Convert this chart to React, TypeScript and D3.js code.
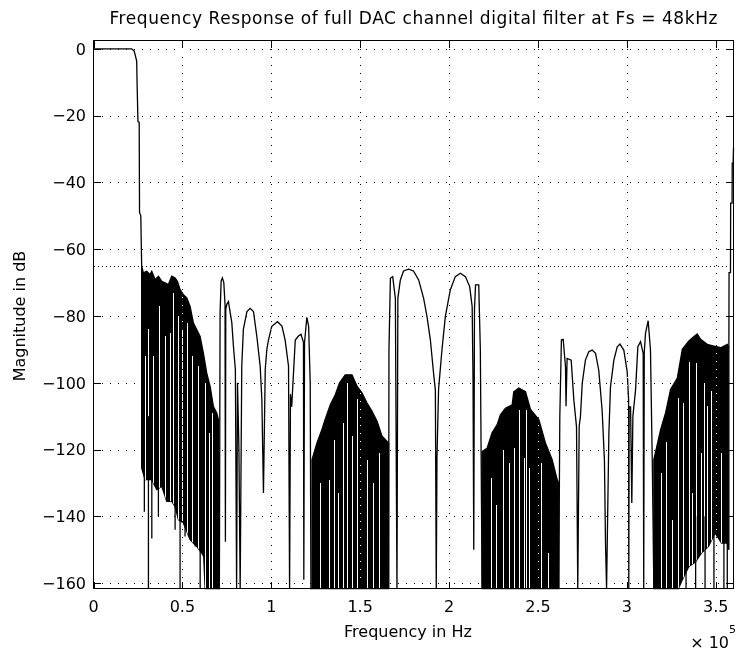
import React from 'react';
import * as d3 from 'd3';

type P = [number, number];

const TITLE = 'Frequency Response of full DAC channel digital filter at Fs = 48kHz';
const X_LABEL = 'Frequency in Hz';
const Y_LABEL = 'Magnitude in dB';
const X_TICKS = [0, 50000, 100000, 150000, 200000, 250000, 300000, 350000];
const X_TICK_LABELS = ['0', '0.5', '1', '1.5', '2', '2.5', '3', '3.5'];
const Y_TICKS = [0, -20, -40, -60, -80, -100, -120, -140, -160];
const MASK_DB = -65;
const X_DOMAIN: P = [0, 360000];
const Y_DOMAIN: P = [-161.6, 2.5];

// passband and transition band
const passband: P[] = [[0, 0], [21500, 0], [22900, -0.7], [24300, -3.7], [24500, -9.7], [25000, -21.7], [25700, -22], [25900, -49], [26600, -50], [27100, -65.2]];

// dense stopband regions (envelopes)
const region1Upper: P[] = [[27100, -65.1], [28050, -67.1], [29950, -66.6], [31800, -67.6], [32770, -66.6], [34630, -69.1], [36500, -68.1], [38400, -69.6], [40260, -70.1], [42120, -70.6], [44030, -68.1], [45890, -68.6], [47200, -69.6], [48700, -72.1], [50560, -73.6], [52480, -74.6], [54340, -77.1], [56200, -82.1], [58100, -84.1], [59970, -86.1], [61800, -91.1], [63700, -97.1], [65600, -101.1], [67450, -107.1], [69370, -109.1], [70300, -111.1]];
const region1Lower: P[] = [[27100, -125.5], [29000, -129], [32770, -129], [35600, -132], [38400, -131], [41200, -135.5], [44000, -135.5], [45900, -137], [47750, -141], [50560, -142], [54340, -147], [58100, -149], [60900, -151], [62000, -152], [62800, -161.6], [70300, -161.6]];
const region2Upper: P[] = [[122900, -123], [125700, -118], [128500, -114], [130300, -111], [133200, -106.6], [136000, -103.6], [138400, -100], [141600, -97.6], [145400, -97.6], [148200, -101], [151000, -103], [153800, -106], [156600, -108.5], [159500, -111.5], [162300, -116], [166000, -118]];
const region2Lower: P[] = [[122900, -161.6], [166000, -161.6]];
const region3Upper: P[] = [[218600, -120.6], [221400, -119.6], [224200, -115], [227000, -112.6], [228900, -109.6], [231700, -107.6], [235500, -106.6], [236400, -102.7], [239200, -101.6], [243000, -102.7], [245800, -108], [250500, -111], [254200, -118], [258000, -123], [260800, -129], [261700, -130]];
const region3Lower: P[] = [[218600, -161.6], [261700, -161.6]];
const region4Upper: P[] = [[315200, -123], [319000, -114], [321800, -109], [324600, -102], [328400, -98.6], [331200, -90], [334900, -87.5], [337600, -86.2], [339600, -85.4], [341500, -87], [345200, -88.5], [349000, -89], [352800, -89.5], [356500, -88.5], [357400, -89.5]];
const region4Lower: P[] = [[315200, -161.6], [329000, -161.6], [331200, -159], [334900, -155], [338700, -153.6], [341900, -151], [345900, -149], [349700, -145], [353300, -148], [356500, -148], [357400, -150]];

// white gaps inside dense regions: [freq, top dB]
const region1Gaps: P[] = [[29000, -92], [30900, -84], [33700, -92], [37100, -77], [40300, -86], [43100, -85], [44900, -73], [47800, -80], [49700, -84], [52500, -82], [55300, -92], [59000, -95], [62800, -100], [65200, -115], [66600, -109]];
const region2Gaps: P[] = [[127500, -130], [132200, -129], [135000, -117], [137800, -133], [140600, -112], [142600, -100], [145400, -116], [148200, -105], [153800, -123], [157200, -130], [160400, -121]];
const region3Gaps: P[] = [[223800, -128.5], [226500, -136.6], [230200, -120], [233600, -124], [236400, -119.6], [239200, -108], [242000, -122.5], [243400, -108], [245200, -125.5], [252000, -124], [255700, -151]];
const region4Gaps: P[] = [[319000, -127], [322200, -117.6], [325600, -141], [328900, -104.6], [331500, -106], [334900, -93.7], [336800, -133], [338700, -94], [341500, -121], [343300, -100], [345200, -107], [347100, -102.6], [352800, -121]];

// nulls reaching below the dense envelopes: [freq, top dB, bottom dB]
const spikes: [number, number, number][] = [[28600, -110, -138.6], [30900, -110, -161.6], [32800, -110, -146.6], [36500, -110, -140], [45900, -120, -144], [48700, -120, -161.6], [51500, -120, -146], [57200, -130, -149], [60000, -130, -161.6], [333300, -140, -161.6], [338700, -140, -161.6], [344000, -140, -161.6], [349000, -140, -161.6], [354600, -140, -161.6], [356500, -140, -161.6]];

// single-line lobes between dense regions
const lobes12: P[] = [[70300, -161.6], [70800, -161.6], [71200, -79], [71800, -69.5], [72500, -68.6], [73300, -70], [74000, -76.7], [74200, -147.6], [74400, -78], [75000, -76.5], [75900, -75.7], [77800, -82], [78700, -89], [79800, -96], [80500, -161.6], [81000, -100], [81800, -120], [82500, -161.6], [83400, -95], [84300, -84], [86300, -78.7], [88100, -77.7], [90000, -78.7], [91900, -86.2], [93750, -95], [94700, -105], [95600, -133], [96600, -96], [97500, -90], [98400, -87.2], [100300, -83.1], [103500, -81.7], [106000, -83], [107800, -87.2], [109700, -95], [110300, -161.6], [110800, -103.4], [111500, -107.2], [112200, -100], [113500, -87.2], [115300, -86], [116700, -85.5], [118100, -87.9], [118300, -159], [118700, -88], [120000, -80.4], [121000, -83], [121900, -100], [122300, -161.6], [122900, -161.6]];
const lobes23: P[] = [[166000, -161.6], [166200, -90.2], [167000, -68.7], [168300, -68.2], [169800, -74.7], [170700, -161.6], [171200, -74.7], [172600, -69.2], [174400, -66.5], [177300, -66], [180000, -66.5], [182900, -69.2], [185700, -74.7], [187600, -80.2], [189500, -87.2], [191300, -97.2], [192300, -102.2], [192800, -161.6], [193200, -122.5], [194100, -102], [196000, -90.2], [197900, -80.2], [200700, -72.2], [203500, -68.2], [206400, -67.2], [209200, -68.2], [211600, -71.2], [213000, -77.2], [213500, -100], [213900, -150], [214300, -78], [214900, -70.7], [216700, -70.7], [217600, -90.2], [218600, -161.6]];
const lobes34: P[] = [[261700, -161.6], [262300, -110.2], [263200, -87.2], [264200, -87], [265500, -95.2], [265800, -107], [266400, -92.7], [268700, -93.2], [270200, -105.2], [271700, -113.2], [272400, -161.6], [273200, -113], [273900, -110.2], [274900, -100.2], [276700, -93.2], [278600, -90.7], [280500, -90.2], [282400, -91.2], [284200, -96.2], [286100, -108.2], [287400, -123.2], [288000, -148], [288600, -161.6], [289900, -115.2], [290800, -101.2], [292700, -93.2], [294600, -89.2], [296100, -88.4], [298300, -90.2], [300200, -96.7], [301000, -105.2], [301100, -161.6], [301300, -107.2], [302100, -107.2], [302800, -136], [303400, -110], [304900, -102.2], [306200, -89.2], [307700, -87.7], [309200, -91.2], [309500, -161.6], [309800, -91], [310500, -85.2], [312000, -81.4], [313300, -90.2], [314300, -123.2], [315200, -161.6]];
const rightEdge: P[] = [[357400, -89.5], [357500, -67], [358300, -67], [358400, -46.2], [359200, -46.2], [359300, -34.2], [359800, -34.2], [360000, -29.7]];

const FONT = '"DejaVu Sans", "Liberation Sans", Arial, sans-serif';

export default function App() {
  const left = 93.5, right = 733.5, top = 40.5, bottom = 588.5;
  const x = d3.scaleLinear().domain(X_DOMAIN).range([left, right]);
  const y = d3.scaleLinear().domain(Y_DOMAIN).range([bottom, top]);
  const line = d3.line<P>().x(d => x(d[0])).y(d => y(d[1]));
  const poly = (u: P[], l: P[]) => line(u.concat(l.slice().reverse())) + 'Z';

  const regions = [
    { id: 'r1', u: region1Upper, l: region1Lower, gaps: region1Gaps },
    { id: 'r2', u: region2Upper, l: region2Lower, gaps: region2Gaps },
    { id: 'r3', u: region3Upper, l: region3Lower, gaps: region3Gaps },
    { id: 'r4', u: region4Upper, l: region4Lower, gaps: region4Gaps },
  ];
  const traces = [passband, lobes12, lobes23, lobes34, rightEdge];
  const TL = 7;

  return (
    <svg width={736} height={652} style={{ position: 'absolute', left: 0, top: 0, background: '#fff' }} fontFamily={FONT}>
      <defs>
        {regions.map(r => (
          <clipPath id={'clip-' + r.id} key={r.id}>
            <path d={poly(r.u, r.l)} />
          </clipPath>
        ))}
      </defs>
      <rect x={0} y={0} width={736} height={652} fill="#fff" />
      {/* horizontal grid (under data) */}
      <g stroke="#000" strokeWidth={1} strokeDasharray="1 7" shapeRendering="crispEdges">
        {Y_TICKS.map(v => (
          <line key={v} x1={left} x2={right} y1={Math.round(y(v)) + 0.5} y2={Math.round(y(v)) + 0.5} />
        ))}
      </g>
      {/* data */}
      <g>
        {regions.map(r => (
          <g key={r.id}>
            <path d={poly(r.u, r.l)} fill="#000" stroke="#000" strokeWidth={1.3} />
            <g clipPath={`url(#clip-${r.id})`} stroke="#fff" strokeWidth={1} shapeRendering="crispEdges">
              {r.gaps.map((g, i) => (
                <line key={i} x1={Math.round(x(g[0])) + 0.5} x2={Math.round(x(g[0])) + 0.5} y1={y(g[1])} y2={bottom} />
              ))}
            </g>
          </g>
        ))}
        <g stroke="#000" strokeWidth={1.3}>
          {spikes.map((s, i) => (
            <line key={i} x1={x(s[0])} x2={x(s[0])} y1={y(s[1])} y2={y(s[2])} />
          ))}
        </g>
        {traces.map((t, i) => (
          <path key={i} d={line(t) || ''} fill="none" stroke="#000" strokeWidth={1.3} />
        ))}
      </g>
      {/* -65 dB mask line */}
      <line x1={left} x2={right} y1={Math.round(y(MASK_DB)) + 0.5} y2={Math.round(y(MASK_DB)) + 0.5} stroke="#000" strokeWidth={1} strokeDasharray="1 3" shapeRendering="crispEdges" />
      {/* vertical grid (over data, inverted) */}
      <g stroke="#fff" strokeWidth={1} strokeDasharray="1 7" shapeRendering="crispEdges" style={{ mixBlendMode: 'difference' }}>
        {X_TICKS.filter(v => v > 0).map(v => (
          <line key={v} x1={Math.round(x(v)) + 0.5} x2={Math.round(x(v)) + 0.5} y1={top} y2={bottom} />
        ))}
      </g>
      {/* axes box and ticks */}
      <g stroke="#000" strokeWidth={1} shapeRendering="crispEdges" fill="none">
        <rect x={left} y={top} width={right - left} height={bottom - top} />
        {X_TICKS.map(v => {
          const xx = Math.round(x(v)) + 0.5;
          return (
            <g key={v}>
              <line x1={xx} x2={xx} y1={bottom} y2={bottom - TL} />
              <line x1={xx} x2={xx} y1={top} y2={top + TL} />
            </g>
          );
        })}
        {Y_TICKS.map(v => {
          const yy = Math.round(y(v)) + 0.5;
          return (
            <g key={v}>
              <line x1={left} x2={left + TL} y1={yy} y2={yy} />
              <line x1={right} x2={right - TL} y1={yy} y2={yy} />
            </g>
          );
        })}
      </g>
      {/* tick labels */}
      <g fontSize={16} fill="#000">
        {Y_TICKS.map(v => (
          <text key={v} x={86} y={y(v)} dy="0.36em" textAnchor="end">{v < 0 ? '\u2212' + Math.abs(v) : String(v)}</text>
        ))}
        {X_TICKS.map((v, i) => (
          <text key={v} x={x(v)} y={612} textAnchor="middle">{X_TICK_LABELS[i]}</text>
        ))}
      </g>
      <text x={413.5} y={24} fontSize={17} textAnchor="middle" textLength={608} lengthAdjust="spacing" fill="#000">{TITLE}</text>
      <text x={408} y={637} fontSize={16} textAnchor="middle" fill="#000">{X_LABEL}</text>
      <text transform="translate(25,316) rotate(-90)" fontSize={16} textAnchor="middle" fill="#000">{Y_LABEL}</text>
      <text x={729} y={648} fontSize={16} textAnchor="end" fill="#000">{'\u00d7 10'}</text>
      <text x={729} y={633} fontSize={11} fill="#000">5</text>
    </svg>
  );
}
